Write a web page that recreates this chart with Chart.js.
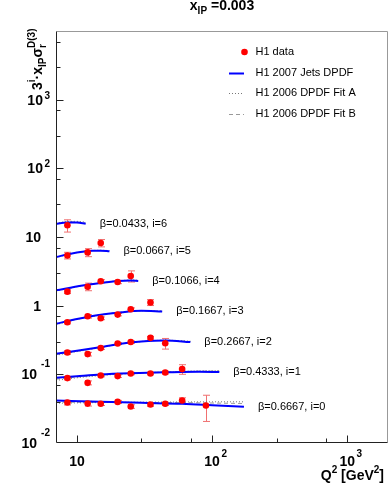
<!DOCTYPE html>
<html lang="en">
  <head>
    <meta charset="UTF-8" />
    <title>xIP = 0.003</title>
    <style>
      html, body { margin: 0; padding: 0; background: #fff; }
      canvas { display: block; }
    </style>
  </head>
  <body>
    <canvas id="chart" width="392" height="485"></canvas>

    <script src="https://cdn.jsdelivr.net/npm/chart.js"></script>

    <script>
      // Q^2 of the measured points [GeV^2]
      const q2Points = [8.5, 12, 15, 20, 25, 35, 45, 60, 90];
      const betas = ['0.6667', '0.4333', '0.2667', '0.1667', '0.1066', '0.0667', '0.0433'];

      // 3^i * xIP * sigma_r^D(3) as plotted, i = 0..6 (first n Q^2 bins)
      const sigma0 = [0.0388, 0.0375, 0.0372, 0.0397, 0.034, 0.0363, 0.0372, 0.0415, 0.0351];
      const sigma1 = [0.0881, 0.0752, 0.0961, 0.0942, 0.1028, 0.1028, 0.1062, 0.1191];
      const sigma2 = [0.208, 0.197, 0.241, 0.281, 0.295, 0.34, 0.283];
      const sigma3 = [0.573, 0.7, 0.655, 0.741, 0.887, 1.114];
      const sigma4 = [1.6, 1.89, 2.27, 2.21, 2.71];
      const sigma5 = [5.39, 5.97, 8.18];
      const sigma6 = [14.8];

      const err0 = [0.003, 0.003, 0.002, 0.002, 0.002, 0.002, 0.002, 0.004, 0.0145];
      const err1 = [0.005, 0.005, 0.004, 0.004, 0.004, 0.004, 0.005, 0.019];
      const err2 = [0.012, 0.012, 0.01, 0.01, 0.012, 0.015, 0.05];
      const err3 = [0.03, 0.04, 0.03, 0.03, 0.04, 0.11];
      const err4 = [0.1, 0.24, 0.12, 0.12, 0.5];
      const err5 = [0.6, 0.8, 1.0];
      const err6 = [3.0];

      // model curves, sampled in Q^2
      const curveQ2_0 = [7, 15, 30, 60, 100, 172];
      const jets0 = [0.0415, 0.04, 0.0385, 0.0372, 0.0355, 0.0337];
      const fitA0 = [0.038, 0.0388, 0.0393, 0.0396, 0.0398, 0.0398];
      const fitB0 = [0.0392, 0.0392, 0.039, 0.0387, 0.0382, 0.0376];

      const curveQ2_1 = [7, 10, 15, 25, 45, 80, 113];
      const jets1 = [0.0889, 0.094, 0.0998, 0.104, 0.107, 0.109, 0.108];
      const fitA1 = [0.0815, 0.089, 0.096, 0.103, 0.1085, 0.1125, 0.1135];
      const fitB1 = [0.085, 0.0915, 0.098, 0.1035, 0.108, 0.111, 0.1115];

      const curveQ2_2 = [7, 10, 15, 20, 30, 45, 69];
      const jets2 = [0.199, 0.22, 0.25, 0.275, 0.3, 0.311, 0.295];
      const fitA2 = [0.19, 0.214, 0.246, 0.272, 0.3, 0.314, 0.305];
      const fitB2 = [0.194, 0.217, 0.248, 0.274, 0.301, 0.313, 0.301];

      const curveQ2_3 = [7, 10, 15, 20, 30, 42.7];
      const jets3 = [0.545, 0.64, 0.74, 0.79, 0.84, 0.825];
      const fitA3 = [0.53, 0.63, 0.735, 0.79, 0.845, 0.84];
      const fitB3 = [0.538, 0.636, 0.738, 0.79, 0.842, 0.832];

      const curveQ2_4 = [7, 11, 15, 20, 25, 28.4];
      const jets4 = [1.67, 1.96, 2.14, 2.28, 2.32, 2.29];
      const fitA4 = [1.64, 1.95, 2.15, 2.3, 2.36, 2.35];
      const fitB4 = [1.66, 1.96, 2.14, 2.29, 2.34, 2.32];

      const curveQ2_5 = [7, 9, 11, 13, 15, 17.4];
      const jets5 = [5.11, 5.71, 6.1, 6.3, 6.33, 6.2];
      const fitA5 = [5.02, 5.68, 6.12, 6.36, 6.42, 6.35];
      const fitB5 = [5.08, 5.7, 6.11, 6.33, 6.38, 6.28];

      const curveQ2_6 = [7, 8, 9, 10, 11.6];
      const jets6 = [15.5, 16.1, 16.3, 16.2, 15.6];
      const fitA6 = [15.8, 16.6, 16.9, 16.9, 16.5];
      const fitB6 = [15.6, 16.3, 16.6, 16.5, 16.0];

      const sigma = [sigma0, sigma1, sigma2, sigma3, sigma4, sigma5, sigma6];
      const errs = [err0, err1, err2, err3, err4, err5, err6];
      const curveQ2 = [curveQ2_0, curveQ2_1, curveQ2_2, curveQ2_3, curveQ2_4, curveQ2_5, curveQ2_6];
      const jets = [jets0, jets1, jets2, jets3, jets4, jets5, jets6];
      const fitA = [fitA0, fitA1, fitA2, fitA3, fitA4, fitA5, fitA6];
      const fitB = [fitB0, fitB1, fitB2, fitB3, fitB4, fitB5, fitB6];

      const FONT = "'Liberation Sans', Arial, sans-serif";
      const toXY = (xs, ys) => ys.map((y, k) => ({ x: xs[k], y }));

      const datasets = [];
      for (let i = 0; i < betas.length; i++) {
        datasets.push({
          type: 'line', data: toXY(curveQ2[i], fitB[i]), borderColor: '#999',
          borderWidth: 1, borderDash: [4, 3], pointRadius: 0, cubicInterpolationMode: 'monotone', order: 3,
        });
        datasets.push({
          type: 'line', data: toXY(curveQ2[i], fitA[i]), borderColor: '#777',
          borderWidth: 1, borderDash: [1, 2], pointRadius: 0, cubicInterpolationMode: 'monotone', order: 2,
        });
        datasets.push({
          type: 'line', data: toXY(curveQ2[i], jets[i]), borderColor: '#0000ff',
          borderWidth: 2, pointRadius: 0, cubicInterpolationMode: 'monotone', order: 1,
        });
        datasets.push({
          type: 'scatter', data: toXY(q2Points, sigma[i]), backgroundColor: '#ff0000',
          borderColor: '#ff0000', borderWidth: 0, pointRadius: 3.3, order: 0,
        });
      }

      function runText(ctx, text, size, x, y) {
        ctx.font = 'bold ' + size + 'px ' + FONT;
        ctx.fillText(text, x, y);
        return ctx.measureText(text).width;
      }

      const errorBars = {
        id: 'errorBars',
        beforeDatasetsDraw(chart) {
          const { ctx, scales: { x, y } } = chart;
          ctx.save();
          ctx.strokeStyle = '#f07070';
          ctx.lineWidth = 1;
          sigma.forEach((vals, i) => {
            vals.forEach((v, k) => {
              const px = Math.round(x.getPixelForValue(q2Points[k])) + 0.5;
              const top = y.getPixelForValue(v + errs[i][k]);
              const bot = y.getPixelForValue(v - errs[i][k]);
              ctx.beginPath();
              ctx.moveTo(px, top); ctx.lineTo(px, bot);
              ctx.moveTo(px - 3.5, top); ctx.lineTo(px + 3.5, top);
              ctx.moveTo(px - 3.5, bot); ctx.lineTo(px + 3.5, bot);
              ctx.stroke();
            });
          });
          ctx.restore();
        },
      };

      const frame = {
        id: 'frame',
        afterDraw(chart) {
          const { ctx, chartArea: a, scales: { x, y } } = chart;
          const L = a.left + 0.5, R = a.right - 0.5, T = a.top + 0.5, B = a.bottom - 0.5;
          ctx.save();
          ctx.lineWidth = 1;
          ctx.strokeStyle = '#999';
          ctx.beginPath();
          ctx.moveTo(L, T); ctx.lineTo(R, T); ctx.lineTo(R, B);
          ctx.stroke();
          ctx.strokeStyle = '#222';
          ctx.beginPath();
          ctx.moveTo(L, T); ctx.lineTo(L, B); ctx.lineTo(R, B);
          const integral = (v) => {
            const m = v / Math.pow(10, Math.floor(Math.log10(v) + 1e-9));
            return Math.abs(m - Math.round(m)) < 1e-6 ? Math.round(m) : 0;
          };
          y.ticks.forEach((t) => {
            const m = integral(t.value);
            if (!m || t.value <= y.min || t.value >= y.max) return;
            const py = Math.round(y.getPixelForValue(t.value)) + 0.5;
            ctx.moveTo(L, py); ctx.lineTo(L + (m === 1 ? 7 : 4), py);
          });
          x.ticks.forEach((t) => {
            const m = integral(t.value);
            if (!m || t.value <= x.min || t.value >= x.max) return;
            const px = Math.round(x.getPixelForValue(t.value)) + 0.5;
            ctx.moveTo(px, B); ctx.lineTo(px, B - (m === 1 ? 7 : 4));
          });
          ctx.stroke();

          // tick labels
          ctx.fillStyle = '#000';
          ctx.textBaseline = 'alphabetic';
          ctx.textAlign = 'left';
          y.ticks.forEach((t) => {
            if (integral(t.value) !== 1 || t.value >= y.max) return;
            const e = Math.round(Math.log10(t.value));
            const py = y.getPixelForValue(t.value);
            if (e === 0 || e === 1) {
              const s = e === 0 ? '1' : '10';
              ctx.font = 'bold 14px ' + FONT;
              runText(ctx, s, 14, 41 - ctx.measureText(s).width, py + 5);
            } else {
              ctx.font = 'bold 10px ' + FONT;
              const sw = ctx.measureText(String(e)).width;
              ctx.font = 'bold 14px ' + FONT;
              const bw = ctx.measureText('10').width;
              const gap = e < 0 ? 4 : 1.5;
              const bx = 50 - sw - gap - bw;
              runText(ctx, '10', 14, bx, py + 5);
              runText(ctx, String(e), 10, bx + bw + gap, e < 0 ? py - 7.5 : py - 1);
            }
          });
          x.ticks.forEach((t) => {
            if (integral(t.value) !== 1 || t.value >= x.max || t.value <= x.min) return;
            const e = Math.round(Math.log10(t.value));
            const px = x.getPixelForValue(t.value);
            ctx.font = 'bold 14px ' + FONT;
            const bw = ctx.measureText('10').width;
            runText(ctx, '10', 14, px - bw / 2, 466);
            if (e !== 1) runText(ctx, String(e), 10, px + bw / 2 + 1.5, 456.5);
          });

          // beta labels at the end of each jets curve
          ctx.font = '11px ' + FONT;
          ctx.textBaseline = 'middle';
          betas.forEach((b, i) => {
            const n = curveQ2[i].length - 1;
            const px = x.getPixelForValue(curveQ2[i][n]) + 14;
            const py = y.getPixelForValue(jets[i][n]);
            ctx.fillText('\u03b2=' + b + ', i=' + i, px, py);
          });

          // legend
          const lx = a.left + 199.5;
          const rows = ['H1 data', 'H1 2007 Jets DPDF', 'H1 2006 DPDF Fit A', 'H1 2006 DPDF Fit B'];
          rows.forEach((label, r) => {
            const ry = a.top + 21 + r * 20.7;
            ctx.fillStyle = '#000';
            ctx.fillText(label, lx, ry);
            ctx.beginPath();
            if (r === 0) {
              ctx.fillStyle = '#ff0000';
              ctx.arc(lx - 11, ry, 3.3, 0, Math.PI * 2);
              ctx.fill();
              return;
            }
            ctx.strokeStyle = r === 1 ? '#0000ff' : r === 2 ? '#777' : '#999';
            ctx.lineWidth = r === 1 ? 2 : 1;
            ctx.setLineDash(r === 2 ? [1, 2] : r === 3 ? [4, 3] : []);
            ctx.moveTo(lx - 26.5, Math.round(ry) + 0.5);
            ctx.lineTo(lx - 11.5, Math.round(ry) + 0.5);
            ctx.stroke();
            ctx.setLineDash([]);
          });

          // titles
          ctx.fillStyle = '#000';
          ctx.textBaseline = 'alphabetic';
          ctx.font = 'bold 14px ' + FONT;
          const w1 = ctx.measureText('x').width;
          const w3 = ctx.measureText(' =0.003').width;
          ctx.font = 'bold 10px ' + FONT;
          const w2 = ctx.measureText('IP').width;
          let tx = (a.left + a.right) / 2 - (w1 + w2 + w3) / 2;
          tx += runText(ctx, 'x', 14, tx, 10);
          tx += runText(ctx, 'IP', 10, tx, 14);
          runText(ctx, ' =0.003', 14, tx, 10);

          // x title, right aligned
          ctx.font = 'bold 14px ' + FONT;
          const q = ctx.measureText('Q').width, g = ctx.measureText(' [GeV').width, br = ctx.measureText(']').width;
          ctx.font = 'bold 10px ' + FONT;
          const two = ctx.measureText('2').width;
          let qx = 384 - (q + g + br + 2 * two);
          qx += runText(ctx, 'Q', 14, qx, 480);
          qx += runText(ctx, '2', 10, qx, 473);
          qx += runText(ctx, ' [GeV', 14, qx, 480);
          qx += runText(ctx, '2', 10, qx, 473);
          runText(ctx, ']', 14, qx, 480);

          // y title, rotated
          ctx.translate(42, 90);
          ctx.rotate(-Math.PI / 2);
          let yx = 0;
          yx += runText(ctx, '3', 14, yx, 0);
          yx += runText(ctx, 'i', 10, yx, -7);
          yx += runText(ctx, '\u00b7', 14, yx, 0);
          yx += runText(ctx, 'x', 14, yx, 0);
          yx += runText(ctx, 'IP', 10, yx, 4);
          yx += runText(ctx, '\u03c3', 14, yx, 0);
          runText(ctx, 'r', 10, yx, 4);
          runText(ctx, 'D(3)', 10, yx, -7);
          ctx.restore();
        },
      };

      new Chart(document.getElementById('chart'), {
        data: { datasets },
        options: {
          responsive: false,
          animation: false,
          layout: { padding: { left: 56, top: 31, right: 1, bottom: 42 } },
          scales: {
            x: { type: 'logarithmic', min: 7, max: 2000, display: false },
            y: { type: 'logarithmic', min: 0.01, max: 10000, display: false },
          },
          plugins: { legend: { display: false }, tooltip: { enabled: false } },
        },
        plugins: [errorBars, frame],
      });
    </script>
  </body>
</html>
